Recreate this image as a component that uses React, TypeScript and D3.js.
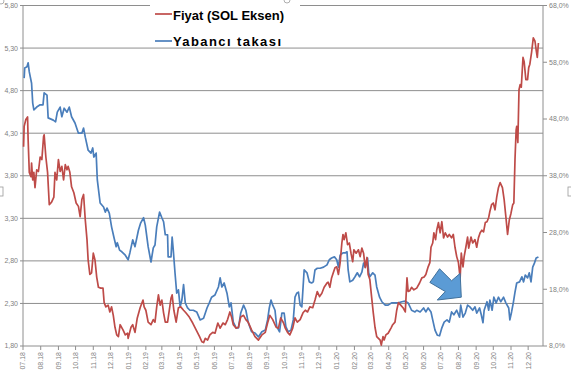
import React from "react";
import * as d3 from "d3";

const BASE = Date.UTC(2018, 6, 1);
const AXIS_END_DAY = 910;
const LAST_TICK = Date.UTC(2020, 11, 2);
const leftTicks = [1.8, 2.3, 2.8, 3.3, 3.8, 4.3, 4.8, 5.3, 5.8];
const rightTicks = [8, 18, 28, 38, 48, 58, 68];
const legendLabels = ["Fiyat (SOL Eksen)", "Yabancı takası"];

// [day offset from 2018-07-01, price]
const fiyat: [number, number][] = [
  [1,4.14],[2,4.38],[5,4.46],[8,4.49],[9,4.22],[11,3.84],[14,3.79],[15,3.95],[17,3.75],[19,3.84],[21,3.66],[24,3.87],[27,3.85],[30,4.02],[33,3.99],[36,4.26],[37,4.28],[40,4.02],[43,3.84],[46,3.46],[50,3.49],[54,3.55],[56,3.84],[59,3.75],[62,3.99],[65,3.85],[68,3.91],[71,3.75],[74,3.93],[77,3.87],[79,3.91],[82,3.84],[85,3.67],[89,3.60],[93,3.48],[97,3.44],[100,3.32],[103,3.52],[106,3.58],[109,3.28],[112,3.05],[114,2.81],[117,2.64],[120,2.66],[123,2.89],[126,2.81],[129,2.61],[132,2.49],[136,2.48],[140,2.48],[142,2.31],[145,2.26],[149,2.28],[152,2.20],[155,2.26],[158,2.16],[161,2.02],[164,1.93],[167,1.91],[170,2.05],[175,1.99],[179,1.93],[183,1.95],[184,1.89],[189,2.02],[192,2.05],[196,1.96],[200,2.13],[205,2.25],[210,2.34],[212,2.26],[215,2.22],[219,2.08],[224,2.05],[228,2.11],[231,2.08],[234,2.26],[237,2.40],[240,2.28],[243,2.34],[246,2.19],[249,2.08],[253,2.08],[256,2.22],[259,2.36],[261,2.40],[264,2.22],[268,2.08],[272,2.25],[276,2.26],[281,2.22],[285,2.19],[291,2.14],[297,2.07],[303,1.99],[309,1.91],[313,1.85],[316,1.84],[319,1.89],[323,1.87],[327,1.93],[332,1.96],[336,1.95],[341,2.07],[345,2.01],[350,2.07],[354,2.05],[358,2.11],[362,2.20],[365,2.14],[368,2.05],[373,2.01],[377,2.02],[381,2.14],[386,2.16],[390,2.11],[394,2.08],[400,1.99],[406,1.91],[412,1.87],[418,1.93],[424,1.96],[428,2.07],[432,2.16],[437,2.11],[443,2.02],[447,2.01],[451,2.13],[456,2.07],[459,2.01],[463,1.96],[467,1.93],[472,2.01],[476,2.13],[480,2.08],[485,2.11],[490,2.19],[494,2.22],[498,2.20],[502,2.26],[507,2.25],[511,2.34],[515,2.44],[519,2.38],[523,2.42],[527,2.49],[532,2.54],[534,2.55],[537,2.49],[540,2.60],[543,2.66],[546,2.72],[549,2.73],[552,2.64],[555,2.78],[558,3.01],[560,3.11],[562,3.05],[565,3.13],[568,2.99],[571,3.01],[574,2.89],[577,2.79],[579,2.93],[583,2.89],[587,2.93],[590,2.85],[593,2.95],[596,2.89],[599,2.72],[602,2.84],[604,2.64],[607,2.58],[610,2.38],[613,2.19],[616,2.02],[619,1.91],[622,1.89],[625,1.87],[627,1.81],[630,1.91],[632,1.87],[635,1.93],[639,1.95],[644,2.01],[647,2.05],[651,2.08],[654,2.22],[657,2.31],[661,2.28],[665,2.25],[669,2.20],[672,2.60],[674,2.44],[677,2.45],[680,2.49],[684,2.46],[689,2.48],[694,2.54],[698,2.60],[702,2.61],[705,2.64],[709,2.73],[712,2.78],[714,2.96],[717,3.01],[719,3.13],[722,3.05],[724,3.16],[727,3.25],[730,3.13],[733,3.26],[736,3.07],[739,3.13],[743,3.08],[746,3.11],[750,3.07],[753,3.11],[756,2.96],[759,2.85],[762,2.78],[765,2.60],[767,2.89],[770,2.73],[772,2.85],[775,2.96],[778,3.08],[780,2.95],[784,3.08],[787,3.01],[791,3.05],[794,2.96],[797,3.07],[800,3.13],[803,3.16],[806,3.14],[809,3.25],[812,3.26],[815,3.31],[817,3.38],[820,3.46],[823,3.48],[826,3.40],[829,3.55],[832,3.66],[835,3.72],[839,3.66],[842,3.52],[845,3.32],[848,3.11],[851,3.28],[854,3.36],[857,3.46],[859,3.48],[861,3.99],[863,4.34],[864,4.38],[866,4.19],[868,4.81],[870,4.87],[872,4.84],[875,5.19],[877,5.14],[880,4.93],[883,4.93],[885,5.07],[887,5.11],[890,5.25],[893,5.42],[896,5.38],[898,5.28],[900,5.19],[902,5.36]
];

// [day offset, foreign share %]
const yabanci: [number, number][] = [
  [2,55.2],[3,57.0],[7,57.2],[9,57.9],[11,56.3],[15,54.3],[17,50.8],[19,49.6],[24,50.1],[30,50.5],[35,50.5],[37,52.6],[42,52.2],[44,48.2],[53,47.8],[57,47.5],[60,49.2],[65,50.1],[68,48.4],[72,49.9],[77,49.2],[81,50.1],[85,48.4],[91,47.3],[97,45.5],[103,45.5],[106,46.4],[109,44.8],[114,42.5],[119,42.0],[122,42.9],[124,41.3],[128,42.0],[130,37.3],[135,33.2],[141,32.5],[144,31.6],[147,32.3],[151,31.4],[155,29.0],[159,27.2],[163,25.5],[165,26.2],[169,24.9],[173,24.6],[179,24.0],[184,23.2],[187,24.4],[192,26.7],[196,25.5],[202,28.4],[206,29.7],[211,30.6],[214,29.3],[219,25.5],[224,22.8],[228,25.3],[231,25.8],[234,29.0],[239,31.6],[243,30.6],[246,29.9],[249,27.6],[253,27.6],[254,23.7],[259,23.7],[261,27.2],[263,24.9],[266,20.9],[269,17.3],[272,17.9],[275,14.9],[278,16.1],[281,18.8],[284,15.6],[288,14.7],[292,14.3],[298,14.3],[304,14.0],[310,12.6],[316,12.9],[322,14.7],[326,15.6],[330,16.6],[336,17.0],[342,18.4],[345,20.0],[348,18.4],[352,19.1],[357,17.3],[361,14.9],[364,15.6],[368,12.2],[373,11.2],[377,11.2],[381,13.8],[386,15.2],[390,14.3],[394,12.2],[400,10.5],[406,10.3],[412,9.6],[418,10.5],[424,10.8],[428,12.6],[431,14.7],[434,16.1],[437,15.2],[441,14.3],[444,11.4],[449,10.5],[453,13.8],[457,13.8],[460,11.4],[464,10.5],[469,10.8],[473,12.6],[476,16.6],[479,17.3],[482,17.5],[485,15.2],[488,14.9],[492,21.4],[497,20.9],[501,19.3],[505,19.1],[508,19.3],[511,21.4],[515,21.7],[520,21.7],[526,21.9],[532,22.3],[536,23.2],[540,23.5],[545,23.7],[549,23.2],[552,21.9],[555,24.0],[560,24.4],[564,24.4],[567,24.6],[569,21.4],[572,19.3],[577,19.6],[581,20.2],[585,20.9],[589,20.2],[593,21.0],[596,22.6],[599,21.9],[603,23.5],[605,20.9],[607,20.2],[612,20.9],[616,20.5],[619,18.4],[624,16.6],[628,15.8],[634,15.2],[639,15.2],[645,15.6],[651,15.6],[657,15.6],[663,15.8],[669,15.9],[674,15.6],[680,14.3],[686,14.0],[689,14.3],[695,14.0],[701,14.7],[705,14.0],[709,14.7],[714,14.0],[717,12.6],[721,10.8],[725,9.9],[729,9.8],[733,11.2],[737,12.2],[742,12.6],[746,12.2],[750,14.0],[754,13.5],[759,14.3],[764,13.1],[766,15.2],[770,13.1],[774,13.8],[778,15.2],[782,14.9],[787,14.3],[791,14.9],[794,13.8],[799,14.7],[802,13.5],[805,12.1],[807,14.3],[812,15.8],[815,14.3],[817,16.1],[821,14.3],[824,16.6],[828,15.6],[832,16.6],[836,15.8],[841,16.6],[845,15.6],[850,14.7],[852,12.6],[855,14.0],[858,15.6],[861,17.5],[864,19.1],[869,19.3],[873,20.2],[876,19.3],[879,20.5],[883,20.0],[886,20.9],[889,19.3],[892,21.9],[895,22.6],[898,23.5],[902,23.7]
];

// annotation arrow, in [day offset, right-axis %]
const arrowShape: [number, number][] = [
  [712, 19.2], [729, 21.6], [750, 19.5], [765, 20.8], [767, 16.6], [725, 16.1], [739, 17.6]
];

const RED = "#BE4B48";
const BLUE = "#4A7EBB";
const GRID = "#8E8E8E";
const LABEL = "#7F7F7F";
const FONT = "'Liberation Sans', Arial, sans-serif";

export default function App() {
  const W = 571, H = 380;
  const m = { left: 23, right: 543, top: 5.5, bottom: 346 };
  const base = new Date(BASE);
  const day = (d: number) => d3.utcDay.offset(base, d);
  const x = d3.scaleUtc().domain([base, day(AXIS_END_DAY)]).range([m.left, m.right]);
  const yL = d3.scaleLinear().domain([1.8, 5.8]).range([m.bottom, m.top]);
  const yR = d3.scaleLinear().domain([8, 68]).range([m.bottom, m.top]);
  const monthTicks = d3.utcMonth.range(base, new Date(LAST_TICK));
  const fmtMonth = d3.utcFormat("%m.%y");
  const fmtLeft = (v: number) => d3.format(".2f")(v).replace(".", ",");
  const fmtRight = (v: number) => d3.format(".1f")(v).replace(".", ",") + "%";

  const lineL = d3.line<[number, number]>().x(d => x(day(d[0]))).y(d => yL(d[1]));
  const lineR = d3.line<[number, number]>().x(d => x(day(d[0]))).y(d => yR(d[1]));
  const arrowPath = d3.line<[number, number]>().x(d => x(day(d[0]))).y(d => yR(d[1]))(arrowShape) + "Z";

  return (
    <svg width={W} height={H} style={{ position: "absolute", left: 0, top: 0, background: "#fff" }}>
      <rect x={0} y={0} width={W} height={H} fill="#fff" />
      {/* gridlines */}
      {leftTicks.map(t => (
        <line key={"g" + t} x1={m.left - 3} x2={m.right} y1={yL(t)} y2={yL(t)} stroke={GRID} strokeWidth={1} />
      ))}
      {/* axes */}
      <line x1={m.left} x2={m.left} y1={m.top} y2={m.bottom} stroke={GRID} strokeWidth={1} />
      <line x1={m.right} x2={m.right} y1={m.top} y2={m.bottom} stroke={GRID} strokeWidth={1} />
      {rightTicks.map(t => (
        <line key={"rt" + t} x1={m.right} x2={m.right + 4} y1={yR(t)} y2={yR(t)} stroke={GRID} strokeWidth={1} />
      ))}
      {monthTicks.map((d, i) => (
        <line key={"xt" + i} x1={x(d)} x2={x(d)} y1={m.bottom} y2={m.bottom + 4} stroke={GRID} strokeWidth={1} />
      ))}
      {/* tick labels */}
      {leftTicks.map(t => (
        <text key={"lt" + t} x={18} y={yL(t)} dy="0.35em" textAnchor="end" fontSize={7} fill={LABEL} fontFamily={FONT}>
          {fmtLeft(t)}
        </text>
      ))}
      {rightTicks.map(t => (
        <text key={"rl" + t} x={549} y={yR(t)} dy="0.35em" textAnchor="start" fontSize={7} fill={LABEL} fontFamily={FONT}>
          {fmtRight(t)}
        </text>
      ))}
      {monthTicks.map((d, i) => (
        <text key={"xl" + i} transform={`translate(${x(d)},${m.bottom + 6}) rotate(-90)`} dy="0.35em" textAnchor="end" fontSize={7} fill={LABEL} fontFamily={FONT}>
          {fmtMonth(d)}
        </text>
      ))}
      {/* series */}
      <path d={lineR(yabanci) || ""} fill="none" stroke={BLUE} strokeWidth={1.7} strokeLinejoin="round" />
      <path d={lineL(fiyat) || ""} fill="none" stroke={RED} strokeWidth={1.7} strokeLinejoin="round" />
      {/* arrow annotation */}
      <path d={arrowPath} fill="#5B9BD5" stroke="#41719C" strokeWidth={1} />
      {/* legend */}
      <rect x={150} y={0} width={150} height={44} fill="#fff" />
      <line x1={155} x2={172} y1={14} y2={14} stroke={RED} strokeWidth={1.7} />
      <text x={173} y={20} fontSize={13} fontWeight="bold" fontFamily={FONT} fill="#000" textLength={111} lengthAdjust="spacing">
        {legendLabels[0]}
      </text>
      <line x1={155} x2={172} y1={41} y2={41} stroke={BLUE} strokeWidth={1.7} />
      <text x={173} y={46} fontSize={13} fontWeight="bold" fontFamily={FONT} fill="#000" textLength={108} lengthAdjust="spacing">
        {legendLabels[1]}
      </text>
      {/* chart-area selection handles */}
      <circle cx={1} cy={1} r={3} fill="#fff" stroke="#9a9a9a" strokeWidth={0.8} />
      <circle cx={287} cy={0} r={3} fill="#fff" stroke="#9a9a9a" strokeWidth={0.8} />
      <rect x={-1} y={187} width={4} height={9} fill="#fff" stroke="#9a9a9a" strokeWidth={0.8} />
      <rect x={568} y={187} width={4} height={9} fill="#fff" stroke="#9a9a9a" strokeWidth={0.8} />
    </svg>
  );
}
